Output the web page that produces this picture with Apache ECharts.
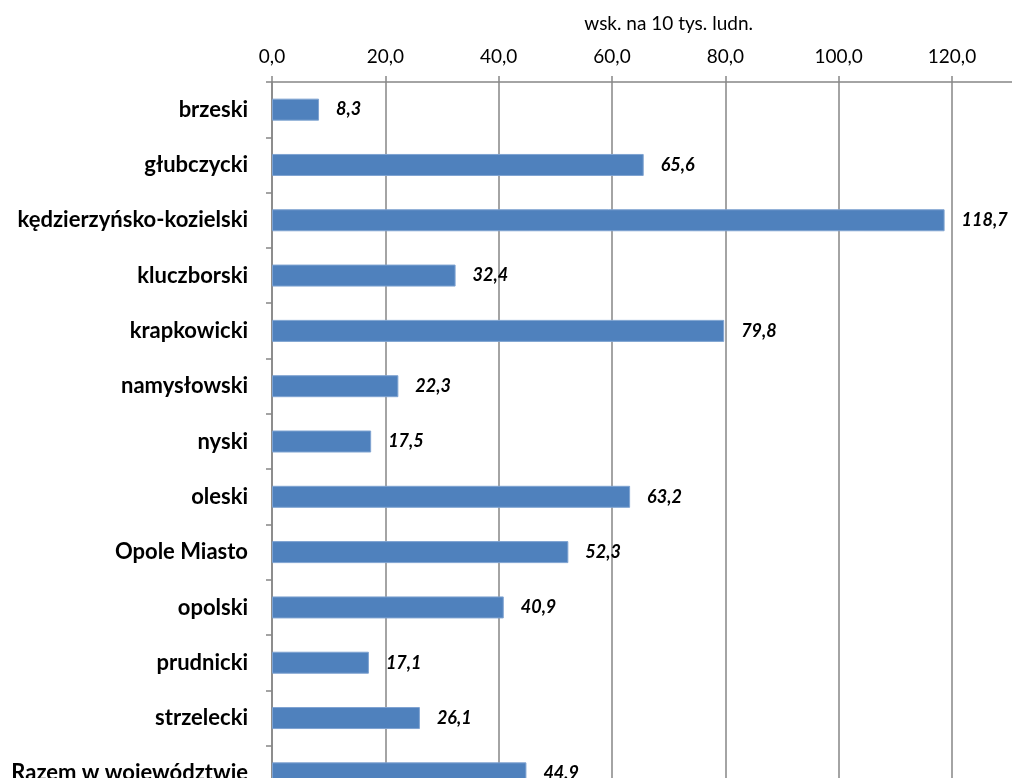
<!DOCTYPE html>
<html><head><meta charset="utf-8">
<script src="https://cdn.jsdelivr.net/npm/echarts@6/dist/echarts.min.js"></script>
<style>html,body{margin:0;padding:0;background:#fff}#c{width:1012px;height:778px}</style>
</head><body><div id="c"></div>
<script>
const categories = ["brzeski","głubczycki","kędzierzyńsko-kozielski","kluczborski","krapkowicki","namysłowski","nyski","oleski","Opole Miasto","opolski","prudnicki","strzelecki","Razem w województwie"];
const values = [8.3,65.6,118.7,32.4,79.8,22.3,17.5,63.2,52.3,40.9,17.1,26.1,44.9];
const axisName = "wsk. na 10 tys. ludn.";
const fmt = v => v.toFixed(1).replace('.', ',');
const FONT = 'Lato, "Open Sans", sans-serif';
const chart = echarts.init(document.getElementById('c'), null, {renderer:'canvas'});
chart.setOption({
  animation:false,
  backgroundColor:'#fff',
  grid:{left:272,top:82,width:793.3,height:719,containLabel:false,outerBoundsMode:'none'},
  xAxis:{type:'value',position:'top',min:0,max:140,interval:20,
    name:axisName,nameLocation:'middle',nameGap:49,
    nameTextStyle:{fontFamily:FONT,fontSize:19,color:'#000'},
    axisLine:{show:true,lineStyle:{color:'#868686',width:1.5}},
    axisTick:{show:true,length:6,lineStyle:{color:'#868686',width:1.5}},
    splitLine:{show:true,lineStyle:{color:'#868686',width:1.5}},
    axisLabel:{margin:16,color:'#000',fontFamily:FONT,fontSize:19,formatter:fmt}},
  yAxis:{type:'category',data:categories,inverse:true,
    axisLine:{show:true,lineStyle:{color:'#868686',width:1.5}},
    axisTick:{show:true,length:6,lineStyle:{color:'#868686',width:1.5}},
    axisLabel:{margin:24,color:'#000',fontFamily:FONT,fontSize:22,fontWeight:'bold'}},
  series:[{type:'bar',data:values,barWidth:22,itemStyle:{color:'#4F81BD',borderColor:'#7FA3D1',borderWidth:1},
    label:{show:true,position:'right',distance:17,formatter:p=>fmt(p.value),color:'#000',fontFamily:FONT,fontSize:18,fontWeight:'bold',fontStyle:'italic'}}]
});
</script></body></html>
